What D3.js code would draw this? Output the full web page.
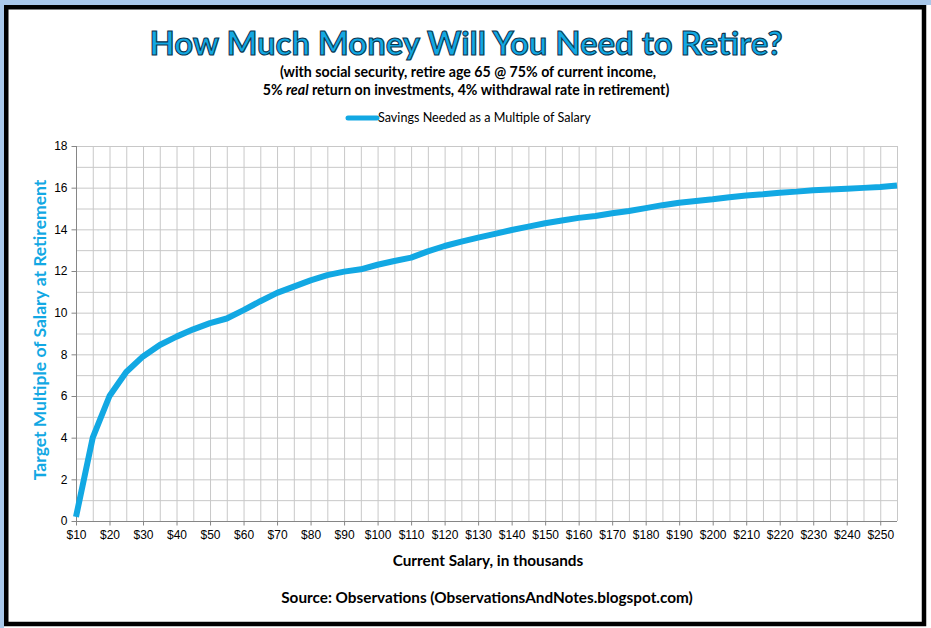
<!DOCTYPE html>
<html>
<head>
<meta charset="utf-8">
<script src="https://cdn.jsdelivr.net/npm/d3@7"></script>
<style>
  html, body { margin: 0; padding: 0; background: #fff; }
  svg { display: block; font-family: Lato, "Open Sans", sans-serif; }
  .grid line { stroke: #c8c8c8; stroke-width: 1; }
  .axis path, .axis line { stroke: #868686; }
  .axis text { fill: #000; font-size: 12px; }
</style>
</head>
<body>
<div id="chart"></div>
<script>
// salary categories (thousands)
const salaries = [10, 15, 20, 25, 30, 35, 40, 45, 50, 55, 60, 65, 70, 75, 80, 85, 90, 95, 100, 105,
  110, 115, 120, 125, 130, 135, 140, 145, 150, 155, 160, 165, 170, 175, 180, 185, 190, 195, 200, 205,
  210, 215, 220, 225, 230, 235, 240, 245, 250, 255];

// savings needed as a multiple of salary
const multiples = [0.2, 4.0, 6.0, 7.15, 7.9, 8.45, 8.85, 9.2, 9.5, 9.72, 10.12, 10.55, 10.95, 11.25, 11.55, 11.8, 11.97, 12.08, 12.3, 12.48,
  12.64, 12.94, 13.2, 13.41, 13.6, 13.78, 13.97, 14.13, 14.29, 14.42, 14.55, 14.64, 14.77, 14.88, 15.02, 15.16, 15.28, 15.36, 15.44, 15.54,
  15.62, 15.68, 15.76, 15.81, 15.88, 15.91, 15.95, 15.99, 16.03, 16.1];

const yTicks = [0, 2, 4, 6, 8, 10, 12, 14, 16, 18];
const xLabelled = [10, 20, 30, 40, 50, 60, 70, 80, 90, 100, 110, 120, 130, 140, 150, 160, 170, 180, 190, 200, 210, 220, 230, 240, 250];

const data = salaries.map((s, i) => ({ salary: s, value: multiples[i] }));

const W = 931, H = 628;
const margin = { top: 146, right: 34, bottom: 107, left: 76 };
const width = W - margin.left - margin.right;
const height = H - margin.top - margin.bottom;
const blue = "#12a8e3";

const svg = d3.select("#chart").append("svg")
  .attr("width", W)
  .attr("height", H);

// light blue page strip + thick black frame
svg.append("rect").attr("x", 0).attr("y", 0).attr("width", W).attr("height", 5).attr("fill", "#a9c8ea");
svg.append("rect").attr("x", 0).attr("y", 0).attr("width", 4).attr("height", H).attr("fill", "#a9c8ea");
svg.append("rect")
  .attr("x", 6.25).attr("y", 7.25)
  .attr("width", 917.75).attr("height", 616.75)
  .attr("fill", "#fff")
  .attr("stroke", "#000")
  .attr("stroke-width", 4.5);

// titles
svg.append("text")
  .attr("x", 466).attr("y", 55)
  .attr("text-anchor", "middle")
  .style("font-size", "33px")
  .style("font-weight", "bold")
  .attr("fill", blue)
  .attr("stroke", "#0b3550")
  .attr("stroke-width", 1.1)
  .attr("textLength", 633)
  .attr("lengthAdjust", "spacingAndGlyphs")
  .text("How Much Money Will You Need to Retire?");

svg.append("text")
  .attr("x", 468).attr("y", 77)
  .attr("text-anchor", "middle")
  .style("font-size", "14.2px")
  .style("font-weight", "bold")
  .text("(with social security, retire age 65  @ 75% of current income,");

const sub2 = svg.append("text")
  .attr("x", 466).attr("y", 95)
  .attr("text-anchor", "middle")
  .style("font-size", "14.2px")
  .style("font-weight", "bold");
sub2.append("tspan").text("5% ");
sub2.append("tspan").style("font-style", "italic").text("real");
sub2.append("tspan").text(" return on investments, 4% withdrawal  rate in retirement)");

// legend
svg.append("line")
  .attr("x1", 348).attr("x2", 377)
  .attr("y1", 118).attr("y2", 118)
  .attr("stroke", blue).attr("stroke-width", 5)
  .attr("stroke-linecap", "round");
svg.append("text")
  .attr("x", 378).attr("y", 122)
  .style("font-size", "12.6px")
  .text("Savings Needed as a Multiple of Salary");

const g = svg.append("g").attr("transform", `translate(${margin.left},${margin.top})`);

const x = d3.scalePoint().domain(salaries).range([0, width]).padding(0);
const y = d3.scaleLinear().domain([0, 18]).range([height, 0]);

// gridlines
g.append("g").attr("class", "grid")
  .selectAll("line.h").data(d3.range(1, 19)).enter().append("line")
  .attr("x1", 0).attr("x2", width)
  .attr("y1", d => y(d) + 0.5).attr("y2", d => y(d) + 0.5);
g.append("g").attr("class", "grid")
  .selectAll("line.v").data(salaries.slice(1)).enter().append("line")
  .attr("x1", d => x(d) + 0.5).attr("x2", d => x(d) + 0.5)
  .attr("y1", 0).attr("y2", height);

// axes
g.append("g").attr("class", "axis")
  .attr("transform", `translate(0.5,0)`)
  .call(d3.axisLeft(y).tickValues(yTicks).tickSize(5).tickPadding(4))
  .call(a => a.select(".domain").attr("d", `M0,0V${height}`));

g.append("g").attr("class", "axis")
  .attr("transform", `translate(0,${height + 0.5})`)
  .call(d3.axisBottom(x).tickValues(xLabelled).tickSize(4).tickPadding(5).tickFormat(d => `$${d}`))
  .call(a => a.select(".domain").attr("d", `M0,0H${width}`));

// axis titles
svg.append("text")
  .attr("transform", `translate(46,330) rotate(-90)`)
  .attr("text-anchor", "middle")
  .attr("fill", blue)
  .style("font-size", "17.5px")
  .style("font-weight", "bold")
  .text("Target Multiple of Salary at Retirement");

svg.append("text")
  .attr("x", 488).attr("y", 566)
  .attr("text-anchor", "middle")
  .style("font-size", "15.3px")
  .style("font-weight", "bold")
  .text("Current Salary, in thousands");

svg.append("text")
  .attr("x", 487).attr("y", 603)
  .attr("text-anchor", "middle")
  .style("font-size", "15.3px")
  .style("font-weight", "bold")
  .text("Source: Observations (ObservationsAndNotes.blogspot.com)");

// the line
const line = d3.line().x(d => x(d.salary)).y(d => y(d.value));
g.append("path")
  .datum(data)
  .attr("fill", "none")
  .attr("stroke", blue)
  .attr("stroke-width", 6)
  .attr("stroke-linejoin", "round")
  .attr("d", line);
</script>
</body>
</html>
